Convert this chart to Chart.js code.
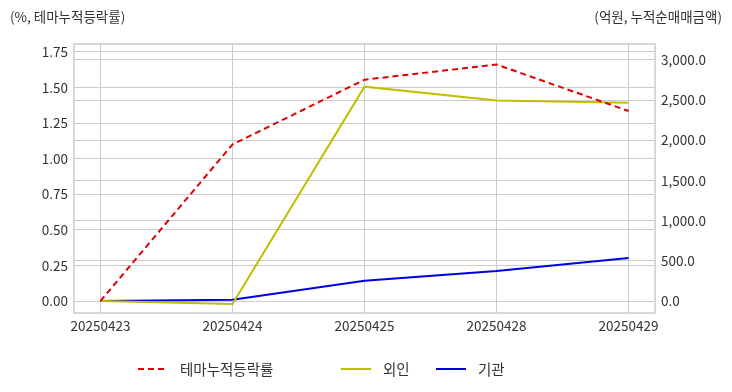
<!DOCTYPE html>
<html>
<head>
<meta charset="utf-8">
<script src="https://cdn.jsdelivr.net/npm/chart.js@4"></script>
<style>
  body { margin: 0; background: #fff; }
  #wrap { position: relative; width: 732px; height: 392px; font-family: 'Noto Sans CJK KR', 'Noto Sans', sans-serif; color: #333; }
  #chart { position: absolute; left: 0; top: 0; }
  .title { position: absolute; top: 6px; font-size: 13.5px; line-height: 20px; }
  #legend { position: absolute; top: 359px; left: 0; width: 732px; height: 20px; font-size: 14.5px; }
  .item { position: absolute; top: 0; height: 20px; line-height: 20px; }
  .item svg { position: absolute; left: 0; top: 9px; }
  .item span { position: absolute; white-space: nowrap; }
</style>
</head>
<body>
<div id="wrap">
  <canvas id="chart" width="732" height="392"></canvas>
  <div class="title" style="left:10px">(%, 테마누적등락률)</div>
  <div class="title" style="right:10px">(억원, 누적순매매금액)</div>
  <div id="legend"></div>
</div>
<script>
const dates = ["20250423", "20250424", "20250425", "20250428", "20250429"];
const themeReturn = [0.00, 1.10, 1.555, 1.662, 1.335];   // %, left axis
const foreignNet = [0, -37, 2668, 2495, 2468];           // 억원, right axis
const instNet = [0, 15, 253, 373, 535];                  // 억원, right axis

const leftTicks = [0, 0.25, 0.5, 0.75, 1.0, 1.25, 1.5, 1.75];
const rightTicks = [0, 500, 1000, 1500, 2000, 2500, 3000];

const seriesNames = ["테마누적등락률", "외인", "기관"];
const seriesColors = ["#e00000", "#bfbf00", "#0000dd"];

const toPoints = vals => vals.map((v, i) => ({ x: i, y: v }));
const tickFont = { family: "'Noto Sans CJK KR', 'Noto Sans', sans-serif", size: 13.5 };
const gridColor = "#cccccc";

new Chart(document.getElementById("chart"), {
  type: 'line',
  data: {
    datasets: [
      {
        label: seriesNames[0],
        data: toPoints(themeReturn),
        yAxisID: 'y',
        borderColor: seriesColors[0],
        borderDash: [6, 4],
        borderWidth: 2,
        pointRadius: 0,
        tension: 0,
        fill: false
      },
      {
        label: seriesNames[1],
        data: toPoints(foreignNet),
        yAxisID: 'y2',
        borderColor: seriesColors[1],
        borderWidth: 2,
        pointRadius: 0,
        tension: 0,
        fill: false
      },
      {
        label: seriesNames[2],
        data: toPoints(instNet),
        yAxisID: 'y2',
        borderColor: seriesColors[2],
        borderWidth: 2,
        pointRadius: 0,
        tension: 0,
        fill: false
      }
    ]
  },
  options: {
    responsive: false,
    animation: false,
    layout: { padding: { top: 44, left: 0, right: 0, bottom: 0 } },
    plugins: {
      legend: { display: false },
      tooltip: { enabled: false }
    },
    scales: {
      x: {
        type: 'linear',
        min: -0.2,
        max: 4.2,
        afterFit: s => { s.height = 79; },
        afterBuildTicks: s => { s.ticks = dates.map((d, i) => ({ value: i })); },
        border: { display: false },
        grid: { color: gridColor, drawTicks: false },
        ticks: {
          padding: 5,
          color: "#333",
          font: tickFont,
          maxRotation: 0,
          autoSkip: false,
          callback: v => dates[v] ?? ''
        }
      },
      y: {
        position: 'left',
        min: -0.084,
        max: 1.806,
        afterFit: s => { s.width = 74; },
        afterBuildTicks: s => { s.ticks = leftTicks.map(v => ({ value: v })); },
        border: { display: false },
        grid: { color: gridColor, drawTicks: false },
        ticks: {
          padding: 6,
          color: "#333",
          font: tickFont,
          callback: v => v.toFixed(2)
        }
      },
      y2: {
        position: 'right',
        min: -149,
        max: 3199,
        afterFit: s => { s.width = 77; },
        afterBuildTicks: s => { s.ticks = rightTicks.map(v => ({ value: v })); },
        border: { display: false },
        grid: { color: gridColor, drawTicks: false },
        ticks: {
          padding: 6,
          color: "#333",
          font: tickFont,
          callback: v => v.toLocaleString('en-US', { minimumFractionDigits: 1, maximumFractionDigits: 1 })
        }
      }
    }
  },
  plugins: [{
    id: 'frame',
    beforeDraw: (chart) => {
      const ctx = chart.ctx;
      ctx.save();
      ctx.fillStyle = "#fff";
      ctx.fillRect(0, 0, chart.width, chart.height);
      ctx.restore();
    },
    afterDatasetsDraw: (chart) => {
      const a = chart.chartArea;
      const ctx = chart.ctx;
      ctx.save();
      ctx.strokeStyle = gridColor;
      ctx.lineWidth = 1.5;
      ctx.strokeRect(a.left, a.top, a.right - a.left, a.bottom - a.top);
      ctx.restore();
    }
  }]
});

// legend
const legendPos = [138, 341, 436];
const legend = document.getElementById("legend");
seriesNames.forEach((name, i) => {
  const item = document.createElement("div");
  item.className = "item";
  item.style.left = legendPos[i] + "px";
  const dash = i === 0 ? 'stroke-dasharray="6 4"' : '';
  item.innerHTML =
    `<svg width="30" height="2"><line x1="0" y1="1" x2="30" y2="1" stroke="${seriesColors[i]}" stroke-width="2" ${dash}/></svg>` +
    `<span style="left:42px">${name}</span>`;
  legend.appendChild(item);
});
</script>
</body>
</html>
